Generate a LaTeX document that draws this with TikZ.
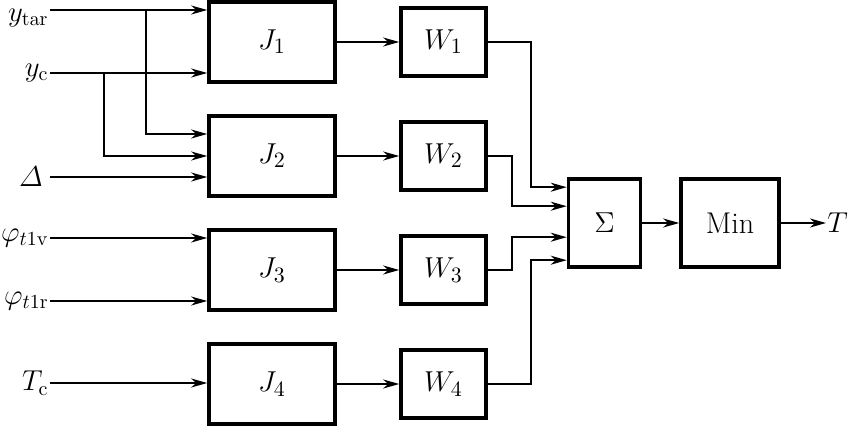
\documentclass[tikz,border=0pt]{standalone}
\usepackage{amsmath}
\usepackage{tikz}
\usetikzlibrary{arrows.meta,positioning,calc}
\tikzset{
  jb/.style={rectangle,draw,line width=1.8pt,minimum width=63pt,minimum height=40pt,inner sep=0pt},
  wb/.style={rectangle,draw,line width=1.8pt,minimum width=42.5pt,minimum height=34pt,inner sep=0pt},
  sb/.style={rectangle,draw,line width=1.8pt,minimum width=36pt,minimum height=44pt,inner sep=0pt},
}

\begin{document}
\begin{tikzpicture}[x=0.5pt,y=-0.5pt,font=\fontsize{15}{17}\selectfont,
  ar/.style={-{Stealth[length=8pt,width=4.5pt,inset=2.5pt]},line width=0.8pt},
  lbl/.style={inner sep=0.5pt,font=\fontsize{14}{16}\selectfont}]
  \useasboundingbox (0,0) rectangle (850,427);
  \node[jb] (J1) at (272,42) {$J_1$};
  \node[jb] (J2) at (272,156) {$J_2$};
  \node[jb] (J3) at (272,270) {$J_3$};
  \node[jb] (J4) at (272,384) {$J_4$};
  \node[wb] (W1) at (443.5,42) {$W_1$};
  \node[wb] (W2) at (443.5,156) {$W_2$};
  \node[wb] (W3) at (443.5,270) {$W_3$};
  \node[wb] (W4) at (443.5,384) {$W_4$};
  \node[sb] (sum) at (604.5,223) {$\Sigma$};
  \node[sb,minimum width=49pt] (min) at (730,223) {Min};
  % inputs
  \coordinate (ytar) at (50,10);
  \coordinate (yc) at (50,73);
  \coordinate (dl) at (50,177);
  \coordinate (pv) at (50,238);
  \coordinate (pr) at (50,301);
  \coordinate (tc) at (50,383);
  \coordinate (b1) at (146,10);
  \coordinate (b2) at (104,73);
  \coordinate (out) at (826,223);
  \node[lbl,left=0pt of ytar,yshift=-4pt] (ltar) {$y_{\mathrm{tar}}$};
  \node[lbl,left=0pt of yc] (lc) {$y_{\mathrm{c}}$};
  \node[lbl,left=3pt of dl] (ld) {$\varDelta$};
  \node[lbl,left=0pt of pv] (lpv) {$\varphi_{t1\mathrm{v}}$};
  \node[lbl,left=0pt of pr] (lpr) {$\varphi_{t1\mathrm{r}}$};
  \node[lbl,left=0pt of tc] (ltc) {$T_{\mathrm{c}}$};
  \node[lbl,right=0pt of out] (lt) {$T$};
  \draw[ar] (ytar) -- (ytar -| J1.west);
  \draw[ar] (yc) -- (yc -| J1.west);
  \draw[ar] (b1) |- ($(J2.west)+(0,-22)$);
  \draw[ar] (b2) |- (J2.west);
  \draw[ar] (dl) -- (dl -| J2.west);
  \draw[ar] (pv) -- (pv -| J3.west);
  \draw[ar] (pr) -- (pr -| J3.west);
  \draw[ar] (tc) -- (tc -| J4.west);
  \foreach \i in {1,...,4} \draw[ar] (J\i) -- (W\i);
  \draw[ar] (W1.east) -- ++(43,0) |- ($(sum.north west)+(0,10)$);
  \draw[ar] (W2.east) -- ++(24,0) |- ($(sum.north west)+(0,29)$);
  \draw[ar] (W3.east) -- ++(24,0) |- ($(sum.north west)+(0,60)$);
  \draw[ar] (W4.east) -- ++(43,0) |- ($(sum.north west)+(0,83)$);
  \draw[ar] (sum) -- (min);
  \draw[ar] (min) -- (out);
\end{tikzpicture}
\end{document}
